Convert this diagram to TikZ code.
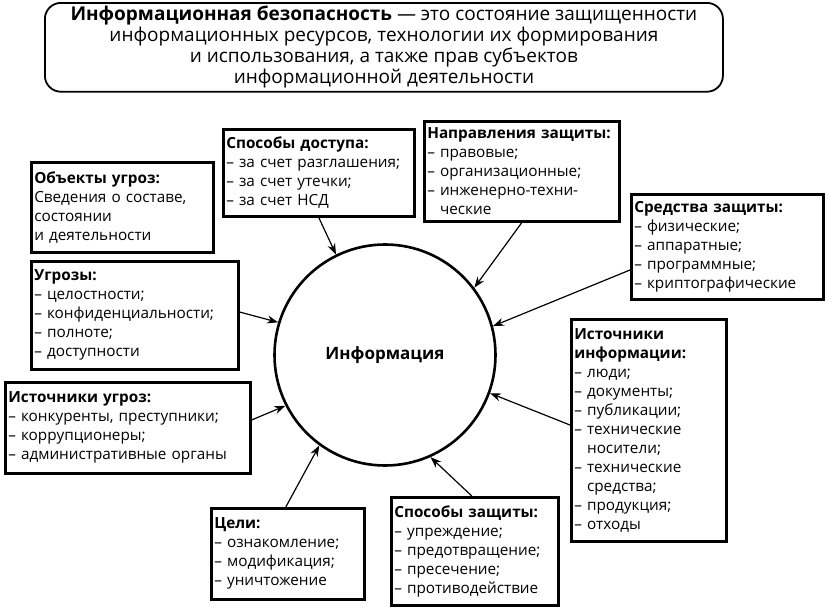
\documentclass[tikz,border=0pt]{standalone}
\usepackage{fontspec}
\setmainfont{Open Sans}
\usetikzlibrary{arrows.meta}
\begin{document}
\begin{tikzpicture}[x=1pt,y=-1pt,
  box/.style={draw,line width=2.6pt,align=left,inner sep=3pt,font=\fontsize{15.3}{19}\selectfont},
  arr/.style={-{Stealth[length=11pt,width=8pt]},line width=1.2pt}]
\useasboundingbox (0,0) rectangle (828,608);
\newcommand{\bx}[6]{\node[box,text width=#3-#1-6,minimum width=#3-#1,minimum height=#4-#2,anchor=north west] (#5) at (#1,#2) {#6};}
\node[draw,line width=1.8pt,rounded corners=16pt,minimum width=678,minimum height=88,align=center,font=\fontsize{19}{21}\selectfont,anchor=north west] (top) at (44,2)
 {\textbf{Информационная безопасность} — это состояние защищенности\\информационных ресурсов, технологии их формирования\\и использования, а также прав субъектов\\информационной деятельности};
\node[draw,circle,line width=2.6pt,minimum size=221,font=\bfseries\fontsize{17}{21}\selectfont] (c) at (385,355) {Информация};
\bx{30}{161}{212}{251}{ob}{\textbf{Объекты угроз:}\\Сведения о составе,\\состоянии\\и деятельности}
\bx{222}{128}{413}{215}{sd}{\textbf{Способы доступа:}\\– за счет разглашения;\\– за счет утечки;\\– за счет НСД}
\bx{423}{120}{618}{220}{nz}{\textbf{Направления защиты:}\\– правовые;\\– организационные;\\– инженерно-техни-\\\phantom{– }ческие}
\bx{630}{193}{822}{298}{sz}{\textbf{Средства защиты:}\\– физические;\\– аппаратные;\\– программные;\\– криптографические}
\bx{30}{260}{237}{368}{ug}{\textbf{Угрозы:}\\– целостности;\\– конфиденциальности;\\– полноте;\\– доступности}
\bx{4}{381}{249}{472}{iu}{\textbf{Источники угроз:}\\– конкуренты, преступники;\\– коррупционеры;\\– административные органы}
\bx{570}{318}{725}{540}{ii}{\textbf{Источники}\\\textbf{информации:}\\– люди;\\– документы;\\– публикации;\\– технические\\\phantom{– }носители;\\– технические\\\phantom{– }средства;\\– продукция;\\– отходы}
\bx{210}{507}{363}{598}{ce}{\textbf{Цели:}\\– ознакомление;\\– модификация;\\– уничтожение}
\bx{390}{496}{557}{604}{spz}{\textbf{Способы защиты:}\\– упреждение;\\– предотвращение;\\– пресечение;\\– противодействие}
\draw[arr] (sd.south) -- (c.116);
\draw[arr] (nz.south) -- (c.37);
\draw[arr] (sz.west |- 0,270) -- (c.15);
\draw[arr] (ug.east |- 0,312) -- (c.163);
\draw[arr] (iu.east |- 0,420) -- (c.207);
\draw[arr] ([xshift=-2pt]ce.north) -- (c.234);
\draw[arr] ([xshift=-3pt]spz.north) -- (c.294);
\draw[arr] (ii.west |- 0,425) -- (c.340);
\end{tikzpicture}
\end{document}
